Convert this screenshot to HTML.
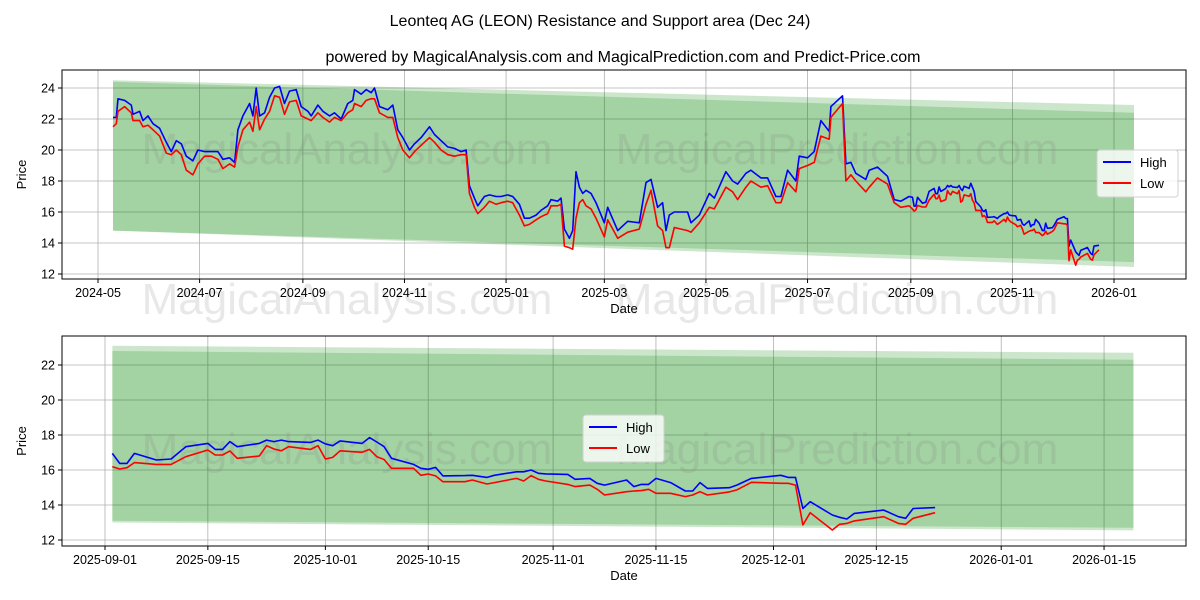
<!DOCTYPE html>
<html><head><meta charset="utf-8"><style>
body{margin:0;background:#fff;}
svg{display:block;font-family:"Liberation Sans","DejaVu Sans",sans-serif;}
</style></head><body>
<svg id="chart" width="1200" height="600" viewBox="0 0 1200 600" xmlns="http://www.w3.org/2000/svg">
<rect x="0" y="0" width="1200" height="600" fill="#fff"/>
<text x="600" y="26" text-anchor="middle" font-size="16">Leonteq AG (LEON) Resistance and Support area (Dec 24)</text>
<text x="623" y="62" text-anchor="middle" font-size="16">powered by MagicalAnalysis.com and MagicalPrediction.com and Predict-Price.com</text>
<g id="top"></g>
<g id="bottom"></g>
</svg>
<script>
const dates = ["2024-05-10","2024-05-12","2024-05-13","2024-05-17","2024-05-21","2024-05-22","2024-05-26","2024-05-28","2024-05-31","2024-06-03","2024-06-07","2024-06-11","2024-06-14","2024-06-17","2024-06-20","2024-06-23","2024-06-27","2024-06-30","2024-07-04","2024-07-08","2024-07-12","2024-07-15","2024-07-19","2024-07-22","2024-07-24","2024-07-27","2024-07-31","2024-08-02","2024-08-04","2024-08-06","2024-08-09","2024-08-12","2024-08-15","2024-08-18","2024-08-21","2024-08-24","2024-08-28","2024-08-31","2024-09-04","2024-09-06","2024-09-10","2024-09-13","2024-09-17","2024-09-20","2024-09-24","2024-09-28","2024-10-01","2024-10-02","2024-10-06","2024-10-09","2024-10-12","2024-10-14","2024-10-17","2024-10-22","2024-10-25","2024-10-28","2024-10-31","2024-11-04","2024-11-07","2024-11-11","2024-11-16","2024-11-19","2024-11-23","2024-11-27","2024-12-01","2024-12-05","2024-12-08","2024-12-10","2024-12-13","2024-12-15","2024-12-19","2024-12-22","2024-12-26","2024-12-29","2025-01-02","2025-01-05","2025-01-09","2025-01-12","2025-01-15","2025-01-19","2025-01-22","2025-01-26","2025-01-28","2025-02-01","2025-02-03","2025-02-05","2025-02-08","2025-02-10","2025-02-12","2025-02-14","2025-02-16","2025-02-18","2025-02-21","2025-02-24","2025-03-01","2025-03-03","2025-03-09","2025-03-15","2025-03-22","2025-03-26","2025-03-29","2025-04-02","2025-04-05","2025-04-07","2025-04-09","2025-04-12","2025-04-20","2025-04-22","2025-04-27","2025-05-03","2025-05-06","2025-05-13","2025-05-17","2025-05-20","2025-05-25","2025-05-28","2025-06-03","2025-06-07","2025-06-12","2025-06-15","2025-06-19","2025-06-24","2025-06-26","2025-07-01","2025-07-05","2025-07-09","2025-07-14","2025-07-15","2025-07-22","2025-07-24","2025-07-27","2025-07-30","2025-08-05","2025-08-07","2025-08-12","2025-08-18","2025-08-22","2025-08-26","2025-08-31","2025-09-02","2025-09-03","2025-09-04","2025-09-05","2025-09-08","2025-09-10","2025-09-12","2025-09-15","2025-09-16","2025-09-17","2025-09-18","2025-09-19","2025-09-22","2025-09-23","2025-09-24","2025-09-25","2025-09-26","2025-09-29","2025-09-30","2025-10-01","2025-10-02","2025-10-03","2025-10-06","2025-10-07","2025-10-08","2025-10-09","2025-10-10","2025-10-13","2025-10-14","2025-10-15","2025-10-16","2025-10-17","2025-10-20","2025-10-21","2025-10-23","2025-10-24","2025-10-27","2025-10-28","2025-10-29","2025-10-30","2025-10-31","2025-11-03","2025-11-04","2025-11-06","2025-11-07","2025-11-08","2025-11-11","2025-11-12","2025-11-13","2025-11-14","2025-11-15","2025-11-17","2025-11-19","2025-11-20","2025-11-21","2025-11-22","2025-11-25","2025-11-26","2025-11-28","2025-12-02","2025-12-03","2025-12-04","2025-12-05","2025-12-06","2025-12-09","2025-12-10","2025-12-11","2025-12-12","2025-12-16","2025-12-18","2025-12-19","2025-12-20","2025-12-23"];
const highs = [22.1,22.1,23.3,23.2,22.9,22.3,22.5,21.9,22.2,21.7,21.4,20.5,19.9,20.6,20.4,19.6,19.3,20.0,19.9,19.9,19.9,19.4,19.5,19.2,21.3,22.2,23.0,22.2,24.0,22.2,22.4,23.4,24.0,24.1,23.0,23.8,23.9,22.8,22.5,22.2,22.9,22.5,22.2,22.4,22.0,23.0,23.2,23.9,23.6,23.9,23.7,24.0,22.8,22.6,22.9,21.3,20.8,20.0,20.4,20.8,21.5,21.0,20.6,20.2,20.1,19.9,20.0,17.7,16.9,16.4,17.0,17.1,17.0,17.0,17.1,17.0,16.5,15.6,15.6,15.8,16.1,16.4,16.8,16.7,16.9,14.9,14.3,14.8,18.6,17.6,17.2,17.4,17.2,16.6,15.3,16.3,14.8,15.4,15.3,17.9,18.1,16.3,16.6,14.8,15.8,16.0,16.0,15.3,15.8,17.2,16.9,18.6,18.0,17.8,18.5,18.7,18.2,18.2,17.0,17.0,18.7,18.0,19.6,19.5,19.9,21.9,21.2,22.8,23.5,19.1,19.2,18.5,18.1,18.7,18.9,18.3,16.8,16.7,17.0,16.95,16.38,16.38,16.95,16.57,16.63,17.33,17.52,17.18,17.18,17.62,17.33,17.52,17.71,17.62,17.71,17.62,17.58,17.71,17.49,17.39,17.66,17.52,17.85,17.6,17.33,16.67,16.32,16.1,16.04,16.15,15.66,15.68,15.7,15.58,15.7,15.9,15.9,16.0,15.81,15.78,15.75,15.47,15.52,15.24,15.14,15.43,15.05,15.18,15.18,15.52,15.28,14.8,14.8,15.28,14.95,14.99,15.14,15.52,15.7,15.58,15.58,13.8,14.19,13.43,13.3,13.2,13.52,13.71,13.33,13.24,13.8,13.85];
const lows = [21.5,21.7,22.5,22.8,22.4,21.9,21.9,21.5,21.6,21.3,20.9,19.8,19.7,20.0,19.7,18.7,18.4,19.1,19.6,19.6,19.4,18.8,19.1,18.9,20.2,21.3,21.8,21.2,22.8,21.3,22.0,22.5,23.5,23.4,22.3,23.1,23.2,22.2,22.0,21.9,22.4,22.1,21.8,22.1,21.9,22.4,22.6,23.0,22.8,23.2,23.3,23.3,22.4,22.1,22.1,20.8,20.0,19.5,19.9,20.3,20.8,20.5,20.0,19.7,19.6,19.7,19.7,17.2,16.3,15.9,16.3,16.7,16.5,16.6,16.7,16.6,15.8,15.1,15.2,15.5,15.7,15.9,16.4,16.4,16.5,13.8,13.7,13.6,15.6,16.6,16.8,16.4,16.2,15.6,14.4,15.5,14.3,14.7,14.9,16.5,17.4,15.1,14.8,13.7,13.7,15.0,14.8,14.7,15.3,16.3,16.2,17.6,17.3,16.8,17.6,18.0,17.6,17.7,16.6,16.6,17.9,17.3,18.8,19.0,19.2,20.9,20.7,22.1,23.0,18.0,18.4,18.0,17.3,17.6,18.2,17.8,16.6,16.3,16.4,16.19,16.06,16.13,16.42,16.32,16.32,16.76,17.14,16.86,16.86,17.09,16.67,16.8,17.39,17.2,17.1,17.33,17.18,17.39,16.63,16.72,17.1,17.01,17.18,16.76,16.6,16.1,16.1,15.7,15.77,15.66,15.33,15.33,15.43,15.2,15.28,15.52,15.37,15.68,15.47,15.37,15.18,15.05,15.14,14.9,14.57,14.76,14.8,14.82,14.9,14.67,14.67,14.48,14.57,14.76,14.57,14.75,14.86,15.3,15.24,15.24,15.14,12.86,13.56,12.57,12.9,12.95,13.09,13.33,12.95,12.9,13.24,13.56];
const topYTicks = [12,14,16,18,20,22,24];
const topXTicks = ["2024-05","2024-07","2024-09","2024-11","2025-01","2025-03","2025-05","2025-07","2025-09","2025-11","2026-01"];
const botYTicks = [12,14,16,18,20,22];
const botXTicks = ["2025-09-01","2025-09-15","2025-10-01","2025-10-15","2025-11-01","2025-11-15","2025-12-01","2025-12-15","2026-01-01","2026-01-15"];
// band: [startDate, endDate, topStart, topEnd, botStart, botEnd]
const topBandOuter = ["2024-05-10","2026-01-13",24.5,22.9,14.8,12.45];
const topBandInner = ["2024-05-10","2026-01-13",24.4,22.4,14.8,12.77];
const botBandOuter = ["2025-09-02","2026-01-19",23.1,22.7,13.0,12.55];
const botBandInner = ["2025-09-02","2026-01-19",22.8,22.3,13.1,12.7];

const NS="http://www.w3.org/2000/svg";
function el(tag,attrs,parent){const e=document.createElementNS(NS,tag);for(const k in attrs)e.setAttribute(k,attrs[k]);parent.appendChild(e);return e;}
const DAY=86400000;
function t(s){const p=s.split("-").map(Number);return Date.UTC(p[0],p[1]-1,p[2]||1);}

function drawPanel(g, cfg){
  const X=d=>cfg.x0+(t(d)-t(cfg.d0))/DAY*cfg.pxPerDay;
  const Y=v=>cfg.y0-(v-cfg.v0)*cfg.pxPerUnit;
  // grid
  cfg.yTicks.forEach(v=>{
    const l=el("line",{x1:cfg.L,x2:cfg.R,y1:Y(v),y2:Y(v),stroke:"#b0b0b0","stroke-width":0.8},g);
    
    
  });
  cfg.xTicks.forEach(d=>{
    const l=el("line",{x1:X(d),x2:X(d),y1:cfg.T,y2:cfg.B,stroke:"#b0b0b0","stroke-width":0.8},g);
    
    
  });
  // bands
  [cfg.bandOuter,cfg.bandInner].forEach((b,i)=>{
    const pts=[[X(b[0]),Y(b[2])],[X(b[1]),Y(b[3])],[X(b[1]),Y(b[5])],[X(b[0]),Y(b[4])]];
    const p=el("polygon",{points:pts.map(q=>q.join(",")).join(" "),fill:"rgb(0,128,0)","fill-opacity":0.2},g);
    
    
  });
  // watermarks
  cfg.marks.forEach(m=>{
    const w=el("text",{x:m[0],y:m[1],"font-size":44,fill:"#808080","fill-opacity":0.18,"text-anchor":"middle"},g);
    w.textContent=m[2];
    
    
  });
  // series
  const idx=[];dates.forEach((d,i)=>{if(t(d)>=t(cfg.from))idx.push(i);});
  [[highs,"#0000ff","high-line"],[lows,"#ff0000","low-line"]].forEach(s=>{
    const pts=idx.map(i=>X(dates[i]).toFixed(1)+","+Y(s[0][i]).toFixed(1)).join(" ");
    const p=el("polyline",{points:pts,fill:"none",stroke:s[1],"stroke-width":1.6,"stroke-linejoin":"round"},g);
    
    
  });
  // frame
  const f=el("rect",{x:cfg.L,y:cfg.T,width:cfg.R-cfg.L,height:cfg.B-cfg.T,fill:"none",stroke:"#000","stroke-width":1},g);
  
  
  // ticks
  cfg.yTicks.forEach(v=>{
    el("line",{x1:cfg.L-4,x2:cfg.L,y1:Y(v),y2:Y(v),stroke:"#000"},g);
    const tx=el("text",{x:cfg.L-7,y:Y(v)+4.5,"font-size":12.5,"text-anchor":"end"},g);
    tx.textContent=v;
    
    
  });
  cfg.xTicks.forEach(d=>{
    el("line",{x1:X(d),x2:X(d),y1:cfg.B,y2:cfg.B+4,stroke:"#000"},g);
    const tx=el("text",{x:X(d),y:cfg.B+18,"font-size":12.5,"text-anchor":"middle"},g);
    tx.textContent=d;
    
    
  });
  const xl=el("text",{x:(cfg.L+cfg.R)/2,y:cfg.B+34,"font-size":13,"text-anchor":"middle"},g);
  xl.textContent="Date";
  
  
  const yl=el("text",{x:0,y:0,"font-size":13,"text-anchor":"middle",transform:`translate(26,${(cfg.T+cfg.B)/2}) rotate(-90)`},g);
  yl.textContent="Price";
  
  
  // legend
  const lg=el("g",{},g);
  
  
  const [lx,ly]=cfg.legend;
  el("rect",{x:lx,y:ly,width:81,height:47,rx:3,fill:"#fff","fill-opacity":0.8,stroke:"#d0d0d0"},lg);
  [["High","#0000ff"],["Low","#ff0000"]].forEach((e,i)=>{
    const ge=el("g",{},lg);
    
    
    el("line",{x1:lx+6,x2:lx+34,y1:ly+12+i*21,y2:ly+12+i*21,stroke:e[1],"stroke-width":2},ge);
    const tx=el("text",{x:lx+43,y:ly+17+i*21,"font-size":13},ge);
    tx.textContent=e[0];
  });
}

drawPanel(document.getElementById("top"),{
  L:62,R:1186,T:70,B:279,x0:98,d0:"2024-05-01",pxPerDay:1.6656,y0:274,v0:12,pxPerUnit:15.5,
  yTicks:topYTicks,xTicks:topXTicks,bandOuter:topBandOuter,bandInner:topBandInner,from:"2024-01-01",
  marks:[[347,164,"MagicalAnalysis.com"],[837,164,"MagicalPrediction.com"],[347,314,"MagicalAnalysis.com"],[837,314,"MagicalPrediction.com"]],
  legend:[1097,150]
});
drawPanel(document.getElementById("bottom"),{
  L:62,R:1186,T:336,B:546,x0:105,d0:"2025-09-01",pxPerDay:7.346,y0:540,v0:12,pxPerUnit:17.5,
  yTicks:botYTicks,xTicks:botXTicks,bandOuter:botBandOuter,bandInner:botBandInner,from:"2025-09-01",
  marks:[[347,464,"MagicalAnalysis.com"],[837,464,"MagicalPrediction.com"]],
  legend:[583,415]
});
</script>
</body></html>
